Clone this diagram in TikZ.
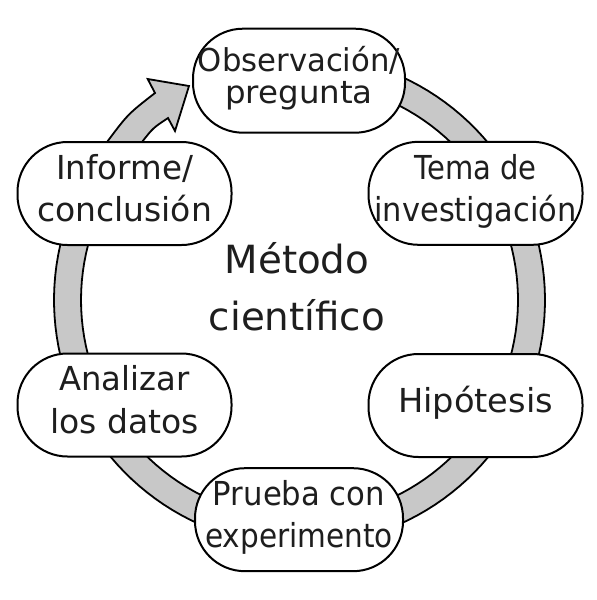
\documentclass[tikz,border=0pt]{standalone}
\usepackage{fontspec}
\setmainfont{DejaVu Sans}
\usepackage{graphicx}
\definecolor{ringgray}{HTML}{C8C8C8}
\definecolor{txt}{HTML}{1E1E1E}
\newcommand\topst{\rule{0pt}{14pt}}
\newcommand\botst{\rule[-7pt]{0pt}{7pt}}
\newcommand\bigtopst{\rule{0pt}{16pt}}
\newcommand\bigbotst{\rule[-8pt]{0pt}{8pt}}
\newcommand\sx[2]{\scalebox{#1}[1]{#2}}
\tikzset{
  stage/.style={draw=black, line width=1pt, fill=white, rectangle,
    rounded corners=25pt, minimum width=107pt, minimum height=51.5pt,
    inner sep=0pt, align=center, text=txt,
    font=\fontsize{16.5pt}{21.25pt}\selectfont},
  ring/.style={fill=ringgray, draw=black, line width=0.9pt, line join=miter},
  title/.style={align=center, text=txt, inner sep=0pt,
    font=\fontsize{19.4pt}{28.35pt}\selectfont}
}
\begin{document}
\begin{tikzpicture}[x=0.5pt, y=-0.5pt]
\useasboundingbox (0,0) rectangle (597,600);
% ring with arrow
\draw[ring] (168,118) -- (175,131) -- (189,86) -- (147.7,79) -- (155,93)
  .. controls (128,114) .. (107,142)
  -- plot[domain=0:285, samples=120] ({299.5+245.5*cos(205-\x)},{300+245.5*sin(205-\x)})
  -- plot[domain=-80:212, samples=120] ({299.5+218.5*cos(\x)},{300+218.5*sin(\x)})
  -- (142,142) .. controls (153,128) .. (168,118) -- cycle;
% stages
\node[stage, minimum width=106pt, minimum height=52pt,
      font=\fontsize{15.75pt}{16pt}\selectfont] (obs) at (299,80.7)
  {\topst\sx{0.975}{Observación/}\\\sx{1.03}{pregunta}\botst};
\node[stage] (tema) at (475.5,193.3)
  {\topst\sx{0.88}{Tema de}\\\sx{0.923}{investigación}\botst};
\node[stage] (hip) at (475.5,405.5)
  {\topst\sx{1.02}{Hipótesis}\botst};
\node[stage, minimum width=104pt] (prueba) at (299,519.7)
  {\topst\sx{0.93}{Prueba con}\\\sx{0.895}{experimento}\botst};
\node[stage] (anal) at (124.5,405)
  {\topst\sx{0.977}{Analizar}\\\sx{1.0}{los datos}\botst};
\node[stage] (inf) at (124.5,193.5)
  {\topst\sx{0.985}{Informe/}\\\sx{1.0}{conclusión}\botst};
% centre title
\node[title] (metodo) at (297,293.7) {\bigtopst Método\\científico\bigbotst};
\end{tikzpicture}
\end{document}
